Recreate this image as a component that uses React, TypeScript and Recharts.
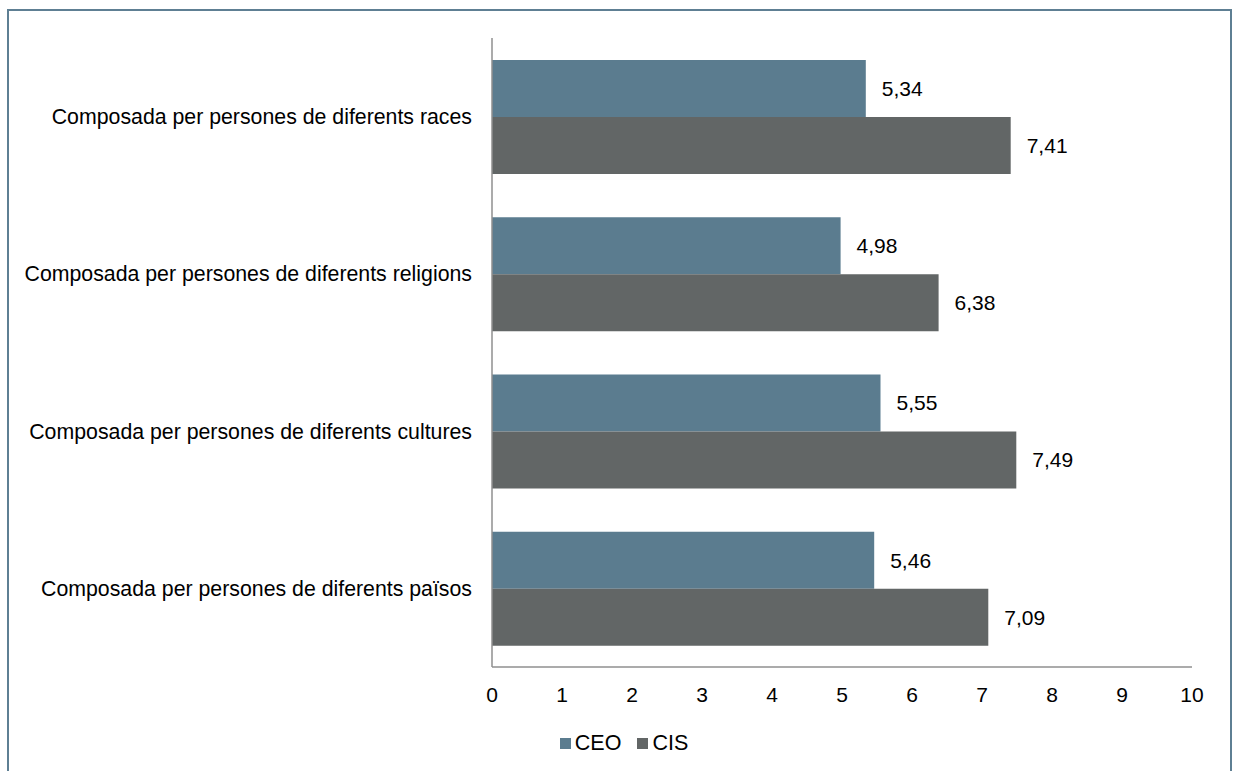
import React from "react"
import {
  BarChart, Bar, XAxis, YAxis, Legend, LabelList,
} from "recharts"

const categories = [
  "Composada per persones de diferents races",
  "Composada per persones de diferents religions",
  "Composada per persones de diferents cultures",
  "Composada per persones de diferents països",
]
const ceoValues = [5.34, 4.98, 5.55, 5.46]
const cisValues = [7.41, 6.38, 7.49, 7.09]
const xTicks = [0, 1, 2, 3, 4, 5, 6, 7, 8, 9, 10]

const FONT = "'Liberation Sans', Arial, sans-serif"
const CEO_COLOR = "#5b7c8f"
const CIS_COLOR = "#626666"

const data = categories.map((name, i) => ({
  name,
  CEO: ceoValues[i],
  CIS: cisValues[i],
}))

const fmt = (v: any) => typeof v === "number" ? v.toFixed(2).replace(".", ",") : v

// legend drawn as plain html so icon size and spacing match the original
function LegendContent() {
  const items = [
    { label: "CEO", color: CEO_COLOR },
    { label: "CIS", color: CIS_COLOR },
  ]
  return (
    <div style={{ display: "flex", justifyContent: "center", paddingLeft: 44, fontFamily: FONT, fontSize: 21.5, lineHeight: "24px" }}>
      {items.map((it, i) => (
        <div key={it.label} style={{ display: "flex", alignItems: "center", marginLeft: i ? 16 : 0 }}>
          <span style={{ display: "inline-block", width: 11, height: 11, background: it.color, marginRight: 4 }} />
          <span style={{ color: "#000" }}>{it.label}</span>
        </div>
      ))}
    </div>
  )
}

export default function App() {
  return (
    <div style={{ position: "absolute", left: 0, top: 0, width: 1235, height: 771, overflow: "hidden", background: "#fff" }}>
      <div style={{
        position: "absolute", left: 7, top: 9, width: 1225, height: 820,
        border: "2px solid #5e7f93", boxSizing: "border-box",
      }} />
      <div style={{ position: "absolute", left: 0, top: 0 }}>
        <BarChart
          width={1235}
          height={771}
          data={data}
          layout="vertical"
          barSize={57}
          barGap={0}
          margin={{ top: 38, right: 43, left: 12, bottom: 16 }}
        >
          <XAxis
            type="number"
            domain={[0, 10]}
            ticks={xTicks}
            interval={0}
            height={64}
            tickLine={false}
            tickSize={6}
            tickMargin={14}
            axisLine={{ stroke: "#8f8f8f", strokeWidth: 1.5 }}
            tick={{ fill: "#000", fontSize: 21, fontFamily: FONT }}
          />
          <YAxis
            type="category"
            dataKey="name"
            width={480}
            tickLine={false}
            tickSize={6}
            tickMargin={14}
            axisLine={{ stroke: "#8f8f8f", strokeWidth: 1.5 }}
            tick={{ fill: "#000", fontSize: 21.3, fontFamily: FONT }}
          />
          <Legend verticalAlign="bottom" content={<LegendContent />} />
          <Bar dataKey="CEO" name="CEO" fill={CEO_COLOR} isAnimationActive={false}>
            <LabelList dataKey="CEO" position="right" offset={16} formatter={fmt}
              style={{ fill: "#000", fontSize: 21, fontFamily: FONT }} />
          </Bar>
          <Bar dataKey="CIS" name="CIS" fill={CIS_COLOR} isAnimationActive={false}>
            <LabelList dataKey="CIS" position="right" offset={16} formatter={fmt}
              style={{ fill: "#000", fontSize: 21, fontFamily: FONT }} />
          </Bar>
        </BarChart>
      </div>
    </div>
  )
}
